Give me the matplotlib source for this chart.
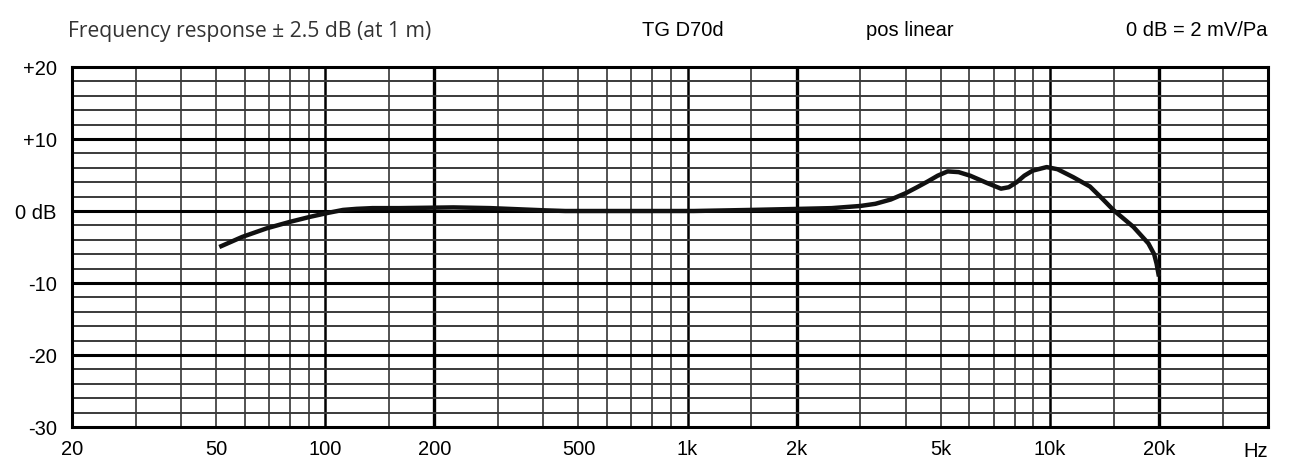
import numpy as np
import matplotlib
matplotlib.use("Agg")
import matplotlib.pyplot as plt

# frequency response (Hz, dB)
freq = [51, 59, 69, 80, 91, 102, 112, 122, 135, 160, 226, 286, 400, 460, 700, 1040,
        1500, 2050, 2500, 3000, 3300, 3640, 4010, 4300, 4600, 4900, 5220, 5600, 6030,
        6700, 7330, 7700, 8100, 8500, 8960, 9800, 10500, 11600, 12900, 13900, 15000,
        17000, 18700, 19400, 19700, 20000]
level = [-5.0, -3.6, -2.4, -1.5, -0.8, -0.25, 0.15, 0.3, 0.4, 0.4, 0.5, 0.4, 0.1, 0.0, 0.0, 0.0,
         0.15, 0.3, 0.4, 0.7, 1.0, 1.6, 2.5, 3.3, 4.1, 4.9, 5.5, 5.4, 4.9,
         3.9, 3.1, 3.3, 4.0, 4.9, 5.6, 6.1, 5.8, 4.7, 3.4, 1.8, 0.1,
         -2.2, -4.5, -6.0, -7.3, -9.1]

x_ticks = [20, 50, 100, 200, 500, 1000, 2000, 5000, 10000, 20000]
x_labels = ["20", "50", "100", "200", "500", "1k", "2k", "5k", "10k", "20k"]
y_ticks = [20, 10, 0, -10, -20, -30]
y_labels = ["+20", "+10", "0 dB", "-10", "-20", "-30"]

plt.rcParams['font.family'] = ['Liberation Sans', 'DejaVu Sans']

fig = plt.figure(figsize=(13, 4.73), dpi=100)
ax = fig.add_axes([72/1300, 1-427/473, 1196/1300, 360/473])
ax.set_xscale('log')
ax.set_xlim(20, 40000)
ax.set_ylim(-30, 20)

# grid like on printed chart paper
for dec in [10, 100, 1000, 10000]:
    for m in [1.5, 2, 3, 4, 5, 6, 7, 8, 9, 10]:
        f = dec * m
        if f <= 20 or f >= 40000:
            continue
        if m == 2:
            ax.axvline(f, color='black', lw=2.4, zorder=1)
        elif m == 10:
            ax.axvline(f, color='black', lw=1.8, zorder=1)
        else:
            ax.axvline(f, color='#444444', lw=1.3, zorder=1)
for v in range(-28, 20, 2):
    if v % 10 == 0:
        ax.axhline(v, color='black', lw=2.2, zorder=1)
    else:
        ax.axhline(v, color='#3a3a3a', lw=1.4, zorder=1)

ax.plot(freq, level, color='#111111', lw=3.2, solid_joinstyle='round',
        solid_capstyle='butt', zorder=3)

for s in ax.spines.values():
    s.set_linewidth(2.2)
ax.minorticks_off()
ax.set_xticks(x_ticks)
ax.set_xticklabels(x_labels, fontsize=14.5)
ax.set_yticks(y_ticks)
ax.set_yticklabels(y_labels, fontsize=14.5)
ax.tick_params(length=0)
ax.tick_params(axis='y', pad=11)
ax.tick_params(axis='x', pad=9)

fig.text(1268/1300, 1-451/473, "Hz", ha='right', va='center', fontsize=14.5)

fig.text(68/1300, 1-31/473, "Frequency response \u00b1 2.5 dB (at 1 m)", ha='left',
         va='center', fontsize=15.2, color='#333333', family=['Open Sans', 'DejaVu Sans'])
fig.text(683/1300, 1-31/473, "TG D70d", ha='center', va='center', fontsize=14.5)
fig.text(910/1300, 1-31/473, "pos linear", ha='center', va='center', fontsize=14.5)
fig.text(1267/1300, 1-31/473, "0 dB = 2 mV/Pa", ha='right', va='center', fontsize=14.5)

fig.savefig("out.png", dpi=100, facecolor='white')
